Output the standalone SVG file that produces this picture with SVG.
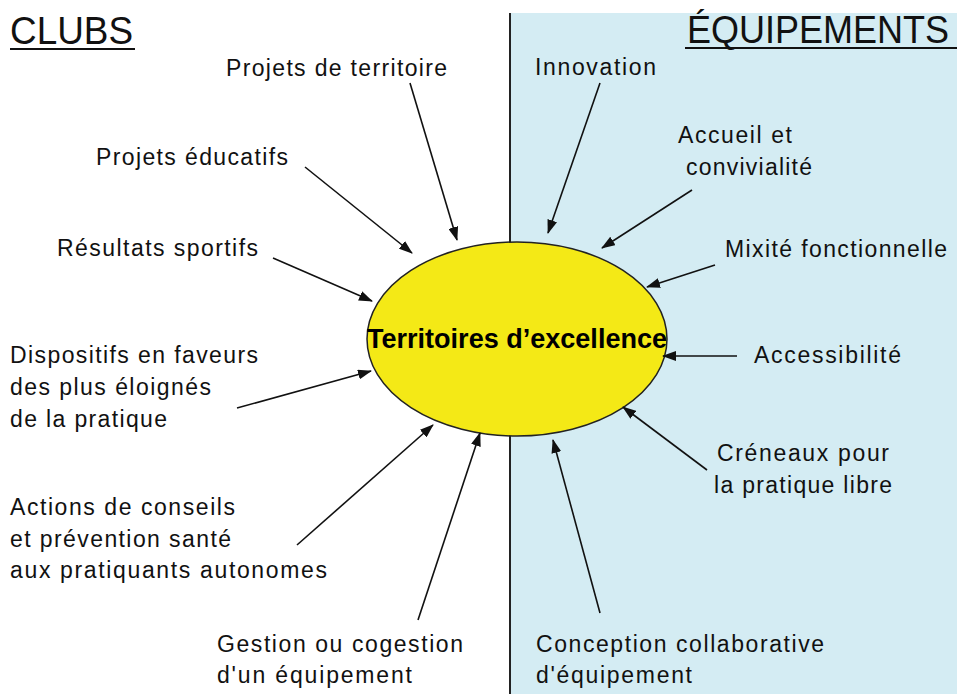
<svg xmlns="http://www.w3.org/2000/svg" width="960" height="694" viewBox="0 0 960 694">
<defs>
<marker id="ah" markerUnits="userSpaceOnUse" markerWidth="14" markerHeight="10" refX="13" refY="5" orient="auto">
<path d="M0,0 L14,5 L0,10 Z" fill="#111"/>
</marker>
<style>
.lbl{font-family:"Liberation Sans",Arial,sans-serif;font-size:23px;fill:#111}
.ttl{font-family:"Liberation Sans",Arial,sans-serif;font-size:38px;fill:#111}
.ctr{font-family:"Liberation Sans",Arial,sans-serif;font-size:28px;font-weight:bold;fill:#000}
.con line{stroke:#111;stroke-width:1.6;marker-end:url(#ah)}
.ul{stroke:#111;stroke-width:2}
</style>
</defs>
<rect width="960" height="694" fill="#fff"/>
<g id="panel">
<rect x="510" y="13" width="447" height="681" fill="#D4ECF3"/>
<line x1="510" y1="13" x2="510" y2="694" stroke="#222" stroke-width="2"/>
</g>
<g id="title-clubs">
<text class="ttl" x="10" y="44" textLength="123" lengthAdjust="spacingAndGlyphs">CLUBS</text>
<line class="ul" x1="10" y1="49" x2="135" y2="49"/>
</g>
<g id="title-equipements">
<text class="ttl" x="687" y="43" textLength="262" lengthAdjust="spacingAndGlyphs">ÉQUIPEMENTS</text>
<line class="ul" x1="685" y1="48" x2="957" y2="48"/>
</g>
<g id="center">
<ellipse cx="517" cy="339" rx="150" ry="97" fill="#F4E916" stroke="#222" stroke-width="1.5"/>
<text class="ctr" x="367" y="348" textLength="300" lengthAdjust="spacingAndGlyphs">Territoires d’excellence</text>
</g>
<g id="projets-territoire"><text class="lbl" x="226" y="76" textLength="221">Projets de territoire</text></g>
<g id="projets-educatifs"><text class="lbl" x="96" y="165" textLength="192">Projets éducatifs</text></g>
<g id="resultats-sportifs"><text class="lbl" x="57" y="256" textLength="201">Résultats sportifs</text></g>
<g id="dispositifs">
<text class="lbl" x="10" y="363" textLength="248">Dispositifs en faveurs</text>
<text class="lbl" x="10" y="395" textLength="201">des plus éloignés</text>
<text class="lbl" x="10" y="427" textLength="157">de la pratique</text>
</g>
<g id="actions">
<text class="lbl" x="10" y="515" textLength="225">Actions de conseils</text>
<text class="lbl" x="10" y="547" textLength="221">et prévention santé</text>
<text class="lbl" x="10" y="578" textLength="317">aux pratiquants autonomes</text>
</g>
<g id="gestion">
<text class="lbl" x="217" y="652" textLength="246">Gestion ou cogestion</text>
<text class="lbl" x="217" y="683" textLength="195">d'un équipement</text>
</g>
<g id="innovation"><text class="lbl" x="535" y="75" textLength="121">Innovation</text></g>
<g id="accueil">
<text class="lbl" x="678" y="143" textLength="114">Accueil et</text>
<text class="lbl" x="686" y="175" textLength="126">convivialité</text>
</g>
<g id="mixite"><text class="lbl" x="725" y="257" textLength="222">Mixité fonctionnelle</text></g>
<g id="accessibilite"><text class="lbl" x="754" y="363" textLength="147">Accessibilité</text></g>
<g id="creneaux">
<text class="lbl" x="717" y="461" textLength="172">Créneaux pour</text>
<text class="lbl" x="714" y="493" textLength="178">la pratique libre</text>
</g>
<g id="conception">
<text class="lbl" x="536" y="652" textLength="288">Conception collaborative</text>
<text class="lbl" x="536" y="683" textLength="156">d'équipement</text>
</g>
<g id="connectors" class="con">
<line x1="410" y1="83" x2="457" y2="240"/>
<line x1="305" y1="167" x2="412" y2="253"/>
<line x1="273" y1="258" x2="372" y2="301"/>
<line x1="237" y1="408" x2="371" y2="371"/>
<line x1="297" y1="545" x2="433" y2="425"/>
<line x1="418" y1="620" x2="480" y2="433"/>
<line x1="600" y1="83" x2="548" y2="233"/>
<line x1="692" y1="190" x2="602" y2="248"/>
<line x1="715" y1="265" x2="647" y2="287"/>
<line x1="737" y1="356" x2="663" y2="356"/>
<line x1="707" y1="470" x2="623" y2="407"/>
<line x1="600" y1="613" x2="553" y2="440"/>
</g>
</svg>
